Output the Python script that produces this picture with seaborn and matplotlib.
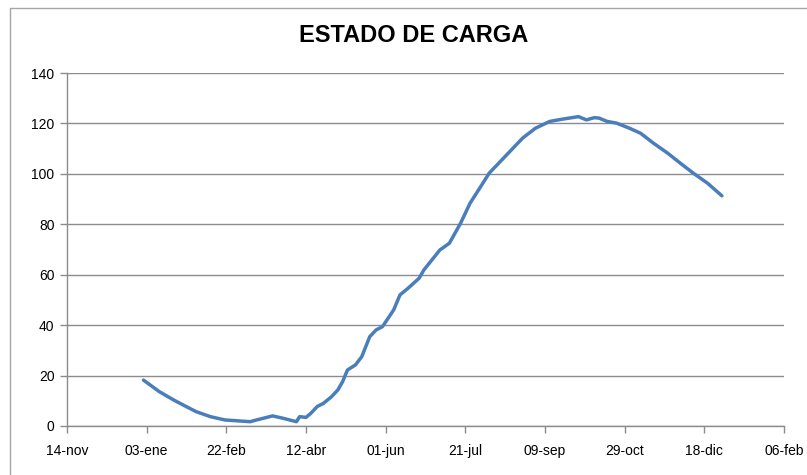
import pandas as pd
import matplotlib
matplotlib.use("Agg")
import matplotlib.pyplot as plt
import matplotlib.lines as mlines
import seaborn as sns

# valores (estado de carga, 2012)
fechas = [
    "2012-01-01", "2012-01-11", "2012-01-20", "2012-01-26", "2012-02-03",
    "2012-02-12", "2012-02-21", "2012-03-01", "2012-03-08", "2012-03-12",
    "2012-03-14", "2012-03-22", "2012-03-29", "2012-04-06", "2012-04-08",
    "2012-04-12", "2012-04-15", "2012-04-19", "2012-04-23", "2012-04-28",
    "2012-05-02", "2012-05-05", "2012-05-08", "2012-05-13", "2012-05-17",
    "2012-05-22", "2012-05-26", "2012-05-30", "2012-06-06", "2012-06-10",
    "2012-06-15", "2012-06-22", "2012-06-25", "2012-07-05", "2012-07-11",
    "2012-07-18", "2012-07-24", "2012-07-30", "2012-08-05", "2012-08-10",
    "2012-08-18", "2012-08-26", "2012-09-03", "2012-09-12", "2012-09-20",
    "2012-09-30", "2012-10-05", "2012-10-10", "2012-10-13", "2012-10-18",
    "2012-10-24", "2012-11-01", "2012-11-08", "2012-11-16", "2012-11-25",
    "2012-12-03", "2012-12-11", "2012-12-20", "2012-12-29",
]
carga = [
    18.2, 13.6, 10.3, 8.3, 5.7,
    3.7, 2.4, 2.0, 1.7, 2.4,
    2.7, 4.0, 3.0, 1.7, 3.7,
    3.4, 5.0, 7.7, 9.0, 11.6,
    14.3, 17.6, 22.2, 24.2, 27.5,
    35.4, 38.1, 39.4, 46.0, 52.0,
    54.6, 58.6, 61.9, 69.8, 72.5,
    80.4, 88.4, 94.3, 100.3, 103.6,
    108.9, 114.2, 118.1, 120.8, 121.7,
    122.7, 121.4, 122.3, 122.1, 120.8,
    120.1, 118.1, 116.1, 112.2, 108.2,
    104.2, 100.3, 96.3, 91.3,
]

tick_fechas = [
    "2011-11-14", "2012-01-03", "2012-02-22", "2012-04-12", "2012-06-01",
    "2012-07-21", "2012-09-09", "2012-10-29", "2012-12-18", "2013-02-06",
]
tick_labels = [
    "14-nov", "03-ene", "22-feb", "12-abr", "01-jun",
    "21-jul", "09-sep", "29-oct", "18-dic", "06-feb",
]
y_ticks = [0, 20, 40, 60, 80, 100, 120, 140]

df = pd.DataFrame({"fecha": pd.to_datetime(fechas), "carga": carga})
ticks = pd.to_datetime(tick_fechas)

sns.set_style("white")
plt.rcParams["font.family"] = ["Liberation Sans", "DejaVu Sans"]

fig = plt.figure(figsize=(8.07, 4.75), dpi=100)
ax = fig.add_axes([0.083, 0.1032, 0.8885, 0.7431])

gris = "#8c8c8c"
sns.lineplot(data=df, x="fecha", y="carga", ax=ax, color="#4a7ebb",
             linewidth=2.5, zorder=3)

ax.set_xlim(ticks[0], ticks[-1])
ax.set_ylim(0, 140)
ax.set_xticks(ticks)
ax.set_xticklabels(tick_labels)
ax.set_yticks(y_ticks)
ax.set_xlabel("")
ax.set_ylabel("")

ax.grid(axis="y", color=gris, linewidth=1)
ax.grid(axis="x", visible=False)
for s in ["top", "right"]:
    ax.spines[s].set_visible(False)
for s in ["left", "bottom"]:
    ax.spines[s].set_color(gris)
    ax.spines[s].set_linewidth(1)
ax.tick_params(axis="both", direction="out", length=5, width=1, color=gris,
               labelsize=10, labelcolor="#000000", bottom=True, left=True)
ax.tick_params(axis="x", pad=8)
ax.tick_params(axis="y", pad=4)

fig.text(0.512, 0.925, "ESTADO DE CARGA", ha="center", va="center",
         fontsize=17, fontweight="bold", color="#000000")

# marco del area del grafico
fig.add_artist(mlines.Line2D([10 / 807, 10 / 807], [0, 1 - 8 / 475],
                             transform=fig.transFigure, color="#a6a6a6", lw=1))
fig.add_artist(mlines.Line2D([10 / 807, 1], [1 - 8 / 475, 1 - 8 / 475],
                             transform=fig.transFigure, color="#a6a6a6", lw=1))

fig.savefig("out.png", dpi=100, facecolor="white")
